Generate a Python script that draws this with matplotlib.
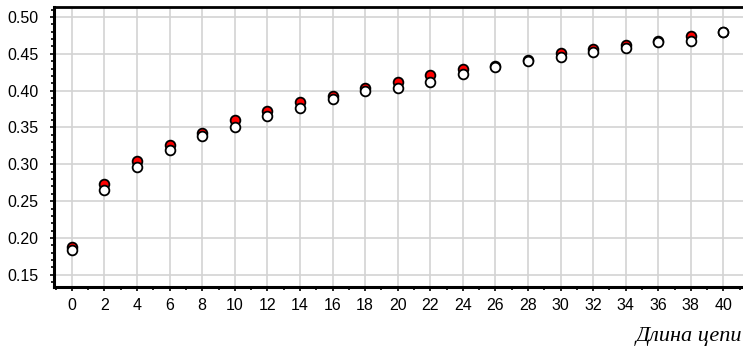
import matplotlib
matplotlib.use("Agg")
import matplotlib.pyplot as plt
from matplotlib.ticker import MultipleLocator, FormatStrFormatter

chain_length = [0, 2, 4, 6, 8, 10, 12, 14, 16, 18, 20, 22, 24, 26, 28, 30, 32, 34, 36, 38, 40]
series_red = [0.188, 0.273, 0.304, 0.326, 0.343, 0.360, 0.373, 0.384, 0.393, 0.404, 0.412,
              0.421, 0.429, 0.434, 0.442, 0.451, 0.457, 0.462, 0.468, 0.474, 0.480]
series_white = [0.184, 0.265, 0.297, 0.319, 0.338, 0.350, 0.366, 0.376, 0.389, 0.399, 0.404,
                0.412, 0.422, 0.432, 0.440, 0.446, 0.453, 0.458, 0.466, 0.468, 0.479]
x_label = "Длина цепи"

fig = plt.figure(figsize=(7.43, 3.47), dpi=100)
ax = fig.add_axes([54/743, (347-287)/347, 1 - 54/743, (287-7)/347])

ax.plot(chain_length, series_red, linestyle="none", marker="o", markersize=7,
        markerfacecolor="#ff0000", markeredgecolor="black", markeredgewidth=1.3, zorder=3)
ax.plot(chain_length, series_white, linestyle="none", marker="o", markersize=7,
        markerfacecolor="white", markeredgecolor="black", markeredgewidth=1.3, zorder=4)

ax.set_xlim(-1.1, 41.2)
ax.set_ylim(0.1335, 0.5135)
ax.xaxis.set_major_locator(MultipleLocator(2))
ax.xaxis.set_minor_locator(MultipleLocator(1))
ax.yaxis.set_major_locator(MultipleLocator(0.05))
ax.yaxis.set_minor_locator(MultipleLocator(0.01))
ax.yaxis.set_major_formatter(FormatStrFormatter("%.2f"))

ax.grid(True, which="major", color="#d3d3d3", linewidth=1.2, zorder=0)
ax.set_axisbelow(True)

for s in ["left", "bottom"]:
    ax.spines[s].set_linewidth(2.2)
ax.spines["top"].set_linewidth(2.0)
ax.spines["right"].set_visible(False)

ax.tick_params(axis="both", which="major", direction="out", length=3, width=1.2,
               labelsize=11.5, colors="black")
ax.tick_params(axis="y", which="major", pad=8)
ax.tick_params(axis="x", which="major", pad=5)
ax.tick_params(axis="both", which="minor", direction="out", length=2, width=1.2)
for lab in ax.get_xticklabels() + ax.get_yticklabels():
    lab.set_fontfamily("Liberation Sans")

fig.text(0.999, 6/347, x_label, ha="right", va="baseline",
         fontfamily="Liberation Serif", fontstyle="italic", fontsize=16)

fig.savefig("out.png", dpi=100)
